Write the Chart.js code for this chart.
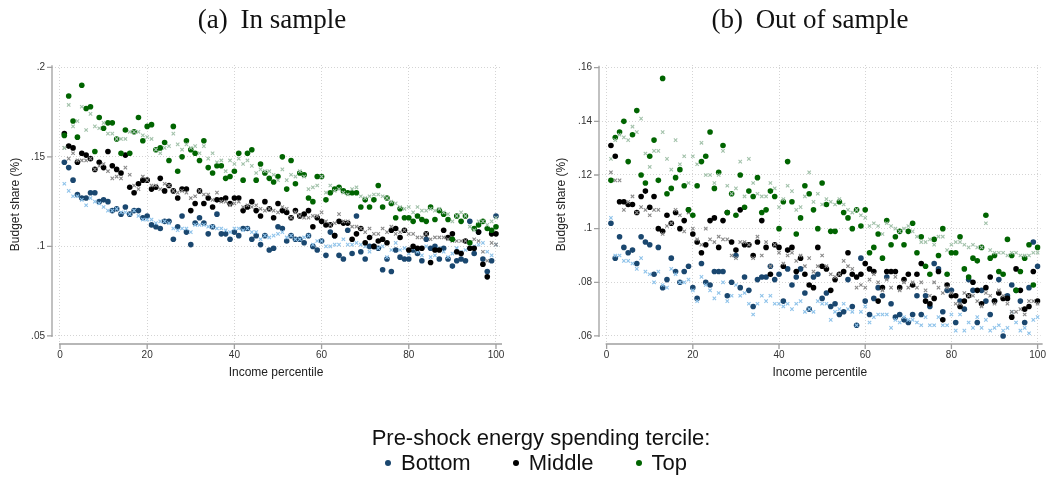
<!DOCTYPE html>
<html>
<head>
<meta charset="utf-8">
<script src="https://cdn.jsdelivr.net/npm/chart.js@4.4.1/dist/chart.umd.min.js"></script>
<style>
	body { margin: 0; background: #fff; }
	#wrap { position: relative; width: 1051px; height: 481px; overflow: hidden; }
	canvas { position: absolute; left: 0; top: 0; }
	.ptitle { position: absolute; top: 4px; font-family: "Liberation Serif", serif; font-size: 27px; color: #111; white-space: nowrap; transform: translateX(-50%); }
	#legtitle { position: absolute; top: 425px; left: 541px; transform: translateX(-50%); font-family: "Liberation Sans", Arial, sans-serif; font-size: 22px; color: #111; white-space: nowrap; }
	#legitems { position: absolute; top: 450px; left: 536px; transform: translateX(-50%); font-family: "Liberation Sans", Arial, sans-serif; font-size: 22px; color: #111; white-space: nowrap; display: flex; align-items: center; }
	.item { display: flex; align-items: center; margin: 0 21px; }
	.dot { width: 6px; height: 6px; border-radius: 50%; margin-right: 10px; }
</style>
</head>
<body>
<div id="wrap">
	<canvas id="chart-in" width="1051" height="481"></canvas>
	<canvas id="chart-out" width="1051" height="481"></canvas>
	<div class="ptitle" style="left:272px"><span style="padding-right:6px">(a)</span> In sample</div>
	<div class="ptitle" style="left:810px"><span style="padding-right:6px">(b)</span> Out of sample</div>
	<div id="legtitle">Pre-shock energy spending tercile:</div>
	<div id="legitems">
		<div class="item"><span class="dot" style="background:#1a476f"></span>Bottom</div>
		<div class="item"><span class="dot" style="background:#000"></span>Middle</div>
		<div class="item"><span class="dot" style="background:#006400"></span>Top</div>
	</div>
</div>
<script>
const percentiles = [
	1,2,3,4,5,6,7,8,9,10,11,12,13,14,15,16,17,18,19,20,
	21,22,23,24,25,26,27,28,29,30,31,32,33,34,35,36,37,38,39,40,
	41,42,43,44,45,46,47,48,49,50,51,52,53,54,55,56,57,58,59,60,
	61,62,63,64,65,66,67,68,69,70,71,72,73,74,75,76,77,78,79,80,
	81,82,83,84,85,86,87,88,89,90,91,92,93,94,95,96,97,98,99,100
];
const xTicks = [0, 20, 40, 60, 80, 100];
const yTicksIn = [0.05, 0.1, 0.15, 0.2];
const yTicksOut = [0.06, 0.08, 0.1, 0.12, 0.14, 0.16];

// (a) In sample
const inBottomDots = [
	.147,.144,.137,.129,.127,.127,.130,.130,.125,.126,
	.125,.120,.121,.118,.122,.118,.120,.120,.116,.117,
	.112,.111,.110,.114,.114,.104,.111,.117,.108,.101,
	.113,.116,.113,.107,.111,.118,.107,.107,.104,.108,
	.106,.110,.110,.104,.106,.101,.106,.098,.099,.111,
	.110,.103,.106,.104,.104,.102,.106,.100,.098,.103,
	.095,.108,.106,.095,.093,.109,.096,.117,.097,.093,
	.100,.100,.099,.087,.093,.086,.098,.094,.093,.093,
	.098,.096,.092,.104,.099,.100,.093,.099,.093,.089,
	.092,.093,.092,.114,.096,.108,.093,.086,.092,.117
];
const inBottomCrosses = [
	.135,.131,.128,.128,.126,.123,.127,.125,.124,.122,
	.120,.120,.121,.119,.119,.118,.120,.117,.115,.115,
	.115,.113,.114,.114,.113,.110,.109,.110,.110,.108,
	.112,.112,.112,.111,.111,.110,.110,.109,.108,.110,
	.110,.109,.110,.108,.108,.104,.106,.105,.106,.107,
	.108,.105,.106,.104,.104,.105,.106,.101,.103,.103,
	.100,.100,.101,.101,.104,.101,.101,.102,.101,.100,
	.097,.100,.099,.100,.094,.098,.102,.098,.099,.096,
	.099,.097,.095,.100,.094,.095,.099,.097,.094,.096,
	.099,.097,.098,.099,.100,.101,.102,.097,.095,.101
];
const inMiddleDots = [
	.163,.156,.155,.147,.152,.151,.149,.143,.147,.144,
	.153,.145,.143,.141,.151,.133,.130,.135,.137,.137,
	.132,.133,.138,.131,.134,.131,.127,.132,.132,.120,
	.124,.131,.124,.127,.122,.126,.126,.127,.124,.127,
	.127,.120,.122,.125,.120,.117,.125,.121,.116,.124,
	.120,.119,.116,.120,.117,.118,.120,.111,.116,.114,
	.112,.112,.106,.114,.113,.113,.104,.107,.110,.102,
	.105,.100,.103,.104,.102,.109,.110,.105,.109,.098,
	.100,.099,.099,.107,.091,.098,.098,.109,.105,.107,
	.097,.096,.103,.099,.099,.108,.090,.083,.107,.107
];
const inMiddleCrosses = [
	.155,.149,.152,.148,.148,.148,.149,.143,.145,.146,
	.142,.138,.139,.138,.144,.140,.134,.132,.139,.137,
	.134,.134,.132,.135,.134,.131,.130,.131,.130,.127,
	.128,.131,.129,.129,.126,.130,.125,.125,.123,.124,
	.125,.122,.123,.122,.123,.121,.120,.121,.120,.119,
	.122,.121,.116,.119,.117,.116,.116,.117,.117,.119,
	.114,.112,.113,.118,.114,.114,.111,.111,.110,.108,
	.110,.107,.107,.110,.108,.111,.107,.108,.109,.107,
	.107,.105,.105,.107,.104,.105,.105,.105,.104,.103,
	.103,.103,.103,.102,.104,.103,.097,.092,.102,.101
];
const inTopDots = [
	.162,.184,.170,.161,.190,.177,.178,.153,.172,.166,
	.169,.169,.160,.152,.165,.152,.164,.172,.159,.167,
	.168,.154,.155,.158,.148,.167,.142,.150,.159,.154,
	.152,.148,.159,.144,.141,.145,.145,.138,.139,.142,
	.152,.137,.152,.154,.137,.146,.141,.138,.136,.139,
	.150,.132,.148,.135,.141,.140,.127,.125,.139,.139,
	.126,.130,.132,.133,.131,.130,.130,.130,.122,.126,
	.122,.126,.134,.122,.127,.124,.116,.121,.116,.116,
	.114,.117,.115,.114,.122,.115,.120,.118,.115,.104,
	.117,.114,.117,.102,.110,.112,.114,.110,.109,.111
];
const inTopCrosses = [
	.155,.179,.167,.170,.178,.165,.174,.167,.166,.169,
	.163,.163,.160,.160,.160,.164,.164,.164,.162,.161,
	.160,.154,.152,.155,.156,.163,.157,.154,.157,.155,
	.156,.152,.156,.149,.152,.147,.148,.142,.148,.146,
	.149,.146,.148,.145,.141,.143,.142,.142,.140,.137,
	.143,.137,.140,.139,.142,.139,.132,.133,.134,.139,
	.130,.134,.131,.132,.130,.129,.132,.133,.128,.127,
	.128,.129,.129,.128,.127,.125,.124,.122,.121,.122,
	.119,.122,.120,.120,.121,.120,.121,.119,.118,.114,
	.117,.119,.117,.111,.109,.114,.114,.112,.114,.116
];

// (b) Out of sample
const outBottomDots = [
	.102,.089,.097,.093,.091,.092,.087,.097,.095,.094,
	.083,.093,.078,.081,.089,.084,.080,.084,.086,.078,
	.074,.087,.080,.079,.084,.084,.084,.075,.080,.090,
	.078,.082,.077,.071,.081,.082,.082,.086,.081,.083,
	.073,.085,.079,.082,.085,.076,.070,.082,.083,.074,
	.076,.071,.072,.068,.069,.081,.071,.064,.089,.073,
	.068,.074,.078,.075,.082,.072,.067,.068,.066,.065,
	.068,.075,.068,.075,.071,.087,.085,.069,.077,.077,
	.065,.073,.070,.081,.077,.065,.077,.073,.068,.073,
	.081,.060,.075,.079,.077,.073,.065,.078,.095,.086
];
const outBottomCrosses = [
	.104,.090,.090,.088,.088,.087,.085,.089,.084,.083,
	.080,.084,.079,.078,.085,.083,.080,.080,.081,.077,
	.073,.082,.079,.077,.074,.076,.080,.073,.075,.079,
	.075,.076,.072,.068,.072,.075,.073,.075,.072,.072,
	.071,.072,.070,.072,.073,.069,.070,.069,.073,.072,
	.072,.066,.069,.070,.072,.070,.069,.064,.069,.071,
	.065,.067,.068,.068,.068,.063,.066,.065,.067,.066,
	.066,.065,.064,.067,.064,.064,.067,.064,.064,.068,
	.062,.068,.062,.065,.063,.067,.063,.066,.062,.063,
	.064,.062,.063,.069,.065,.062,.063,.061,.066,.067
];
const outMiddleDots = [
	.131,.127,.110,.110,.109,.109,.106,.112,.114,.108,
	.112,.100,.099,.105,.102,.106,.100,.103,.107,.098,
	.095,.091,.094,.103,.104,.093,.103,.106,.095,.092,
	.107,.094,.094,.090,.095,.103,.093,.083,.094,.093,
	.086,.092,.093,.084,.089,.083,.079,.078,.093,.086,
	.085,.077,.081,.083,.084,.091,.083,.082,.083,.087,
	.085,.084,.073,.078,.084,.084,.084,.078,.081,.083,
	.079,.083,.087,.073,.072,.074,.084,.066,.079,.075,
	.075,.071,.073,.075,.080,.077,.072,.078,.082,.073,
	.076,.074,.074,.067,.085,.077,.070,.071,.084,.073
];
const outMiddleCrosses = [
	.121,.118,.118,.107,.110,.112,.106,.108,.107,.105,
	.107,.107,.098,.101,.102,.107,.105,.099,.106,.100,
	.096,.094,.100,.096,.095,.097,.096,.096,.090,.089,
	.095,.095,.094,.089,.097,.090,.095,.086,.094,.091,
	.087,.090,.091,.088,.090,.086,.089,.084,.086,.090,
	.086,.083,.082,.083,.088,.086,.085,.078,.079,.078,
	.081,.083,.080,.077,.081,.078,.082,.077,.080,.078,
	.080,.078,.080,.077,.075,.080,.078,.076,.078,.076,
	.072,.072,.076,.075,.075,.073,.071,.076,.075,.072,
	.077,.075,.072,.069,.069,.070,.068,.073,.073,.072
];
const outTopDots = [
	.118,.134,.136,.140,.125,.135,.144,.120,.117,.127,
	.133,.118,.156,.113,.115,.119,.122,.116,.107,.105,
	.116,.125,.127,.136,.115,.121,.131,.106,.113,.105,
	.120,.108,.114,.112,.119,.106,.107,.114,.112,.100,
	.110,.125,.110,.098,.104,.116,.113,.107,.100,.117,
	.109,.099,.099,.110,.106,.104,.100,.107,.101,.107,
	.091,.093,.098,.089,.103,.094,.097,.099,.094,.099,
	.102,.091,.097,.086,.083,.096,.090,.100,.083,.091,
	.091,.097,.085,.082,.089,.088,.093,.105,.089,.090,
	.084,.083,.096,.090,.077,.084,.089,.094,.079,.093
];
const outTopCrosses = [
	.126,.133,.135,.134,.133,.138,.136,.141,.128,.123,
	.129,.129,.136,.126,.122,.133,.124,.127,.117,.127,
	.124,.132,.120,.120,.117,.120,.129,.116,.113,.115,
	.125,.112,.126,.117,.113,.112,.112,.117,.115,.108,
	.111,.116,.114,.107,.108,.112,.121,.110,.113,.109,
	.111,.110,.109,.111,.109,.107,.106,.107,.105,.104,
	.101,.102,.101,.098,.102,.101,.100,.099,.100,.101,
	.099,.097,.095,.095,.096,.094,.097,.097,.092,.094,
	.095,.095,.094,.093,.094,.093,.093,.102,.092,.091,
	.091,.091,.090,.091,.091,.090,.090,.090,.091,.091
];

const colors = {
	bottom: "#1a476f", bottomLight: "#8fc3ea",
	middle: "#000000", middleLight: "#8a8a8a",
	top: "#006400", topLight: "#a3c2ab",
};
const axisFont = { family: "'Liberation Sans', Arial, sans-serif", size: 10 };
const titleFont = { family: "'Liberation Sans', Arial, sans-serif", size: 12 };

function toPoints(values) {
	return values.map((v, i) => ({ x: percentiles[i], y: v }));
}

function dotSet(label, values, color, order) {
	return {
		label: label, data: toPoints(values), order: order,
		pointStyle: "circle", pointRadius: 2.8, pointBackgroundColor: color,
		pointBorderWidth: 0, showLine: false,
	};
}

function crossSet(label, values, color, order) {
	return {
		label: label, data: toPoints(values), order: order,
		pointStyle: "crossRot", pointRadius: 2.4, pointBorderColor: color,
		pointBorderWidth: 1.1, showLine: false,
	};
}

// Stata-like axes: lines and outward ticks spanning the tick range only
const stataAxes = {
	id: "stataAxes",
	beforeDatasetsDraw(chart) {
		const { ctx, chartArea } = chart;
		const xs = chart.scales.x;
		const ys = chart.scales.y;
		const xt = xs.ticks.map((t) => t.value);
		const yt = ys.ticks.map((t) => t.value);
		ctx.save();
		ctx.strokeStyle = "#a0a0a0";
		ctx.lineWidth = 1.3;
		ctx.beginPath();
		const yTop = ys.getPixelForValue(Math.max(...yt)) - 2;
		const yBot = ys.getPixelForValue(Math.min(...yt)) + 1;
		ctx.moveTo(chartArea.left, yTop);
		ctx.lineTo(chartArea.left, yBot);
		yt.forEach((v) => {
			const p = ys.getPixelForValue(v);
			ctx.moveTo(chartArea.left - 5, p);
			ctx.lineTo(chartArea.left, p);
		});
		const xL = xs.getPixelForValue(Math.min(...xt)) - 1;
		const xR = chartArea.right + 2;
		ctx.moveTo(xL, chartArea.bottom);
		ctx.lineTo(xR, chartArea.bottom);
		xt.forEach((v) => {
			const p = xs.getPixelForValue(v);
			ctx.moveTo(p, chartArea.bottom);
			ctx.lineTo(p, chartArea.bottom + 5);
		});
		ctx.stroke();
		ctx.restore();
	},
};

function makePanel(canvasId, series, cfg) {
	return new Chart(document.getElementById(canvasId), {
		type: "scatter",
		data: {
			datasets: [
				crossSet("Top (x)", series.topX, colors.topLight, 1),
				dotSet("Top", series.top, colors.top, 2),
				crossSet("Middle (x)", series.middleX, colors.middleLight, 3),
				dotSet("Middle", series.middle, colors.middle, 4),
				crossSet("Bottom (x)", series.bottomX, colors.bottomLight, 5),
				dotSet("Bottom", series.bottom, colors.bottom, 6),
			],
		},
		options: {
			responsive: false,
			animation: false,
			devicePixelRatio: 1,
			layout: { padding: cfg.padding },
			plugins: { legend: { display: false }, tooltip: { enabled: false } },
			scales: {
				x: {
					type: "linear", min: cfg.xMin, max: cfg.xMax,
					afterBuildTicks: (s) => { s.ticks = xTicks.map((v) => ({ value: v })); },
					afterFit: (s) => { s.height = 37; },
					grid: { color: "#d4d4d4", lineWidth: 1, drawTicks: false },
					border: { display: false, dash: [1, 2] },
					ticks: { font: axisFont, color: "#333", padding: 5, maxRotation: 0 },
					title: { display: true, text: "Income percentile", font: titleFont, color: "#222", padding: { top: 0, bottom: 0.8 } },
				},
				y: {
					type: "linear", min: cfg.yMin, max: cfg.yMax,
					afterBuildTicks: (s) => { s.ticks = cfg.yTicks.map((v) => ({ value: v })); },
					afterFit: (s) => { s.width = 48; },
					grid: { color: "#d4d4d4", lineWidth: 1, drawTicks: false },
					border: { display: false, dash: [1, 2] },
					ticks: {
						font: axisFont, color: "#333", padding: 7,
						callback: (v) => String(+v.toFixed(3)).replace(/^0\./, "."),
					},
					title: { display: true, text: "Budget share (%)", font: titleFont, color: "#222", padding: { top: cfg.yTitlePad, bottom: 0 } },
				},
			},
		},
		plugins: [stataAxes],
	});
}

makePanel("chart-in", {
	bottom: inBottomDots, bottomX: inBottomCrosses,
	middle: inMiddleDots, middleX: inMiddleCrosses,
	top: inTopDots, topX: inTopCrosses,
}, {
	padding: { left: 4, right: 551, top: 65, bottom: 100 },
	xMin: -1.83, xMax: 100.92, yMin: 0.0455, yMax: 0.2013,
	yTicks: yTicksIn, yTitlePad: 4.8,
});

makePanel("chart-out", {
	bottom: outBottomDots, bottomX: outBottomCrosses,
	middle: outMiddleDots, middleX: outMiddleCrosses,
	top: outTopDots, topX: outTopCrosses,
}, {
	padding: { left: 551, right: 7, top: 65, bottom: 100 },
	xMin: -1.77, xMax: 100.7, yMin: 0.057, yMax: 0.161,
	yTicks: yTicksOut, yTitlePad: 3.8,
});
</script>
</body>
</html>
